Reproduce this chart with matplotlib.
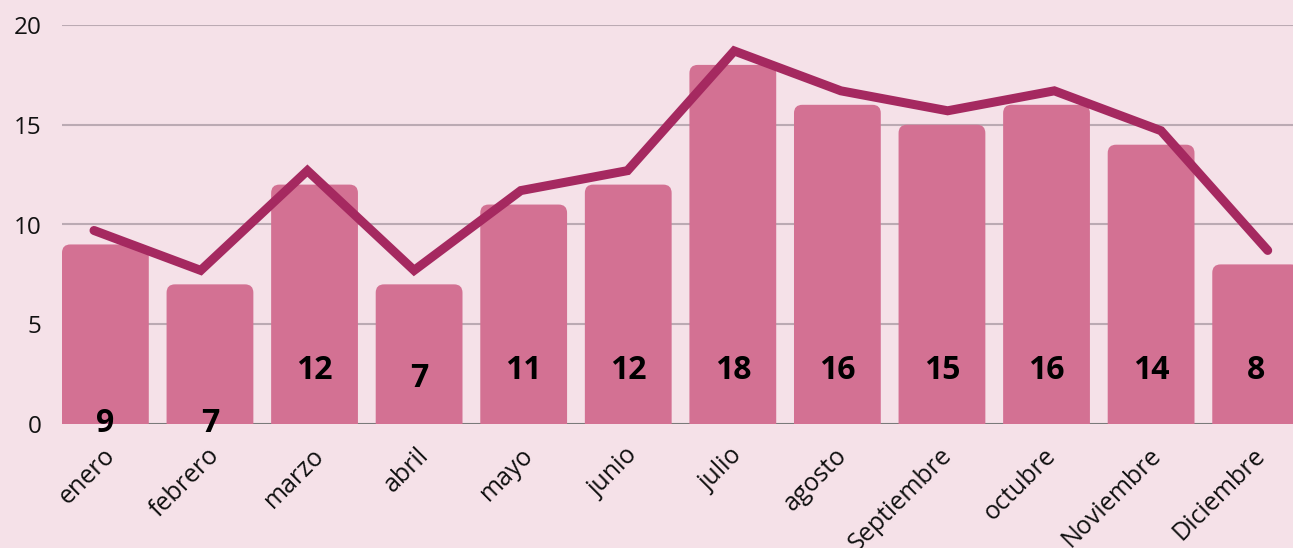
import matplotlib
matplotlib.use("Agg")
import matplotlib.pyplot as plt
from matplotlib.patches import FancyBboxPatch
from matplotlib import transforms

months = ["enero", "febrero", "marzo", "abril", "mayo", "junio", "julio",
          "agosto", "Septiembre", "octubre", "Noviembre", "Diciembre"]
values = [9, 7, 12, 7, 11, 12, 18, 16, 15, 16, 14, 8]
line_values = [9, 7, 12, 7, 11, 12, 18, 16, 15, 16, 14, 8]
label_y = [0, 0, 2.7, 2.3, 2.7, 2.7, 2.7, 2.7, 2.7, 2.7, 2.7, 2.7]
yticks = [0, 5, 10, 15, 20]

BG = "#F5E1E8"
BAR = "#D37193"
LINE = "#A52960"
GRID = "#BBAAB3"
FONT = "Open Sans"

W, H = 1293, 548
fig = plt.figure(figsize=(W / 100, H / 100), dpi=100)
fig.patch.set_facecolor(BG)

left, right, bottom, top = 62 / W, 1.0, (H - 424) / H, (H - 25) / H
ax = fig.add_axes([left, bottom, right - left, top - bottom])
ax.set_facecolor(BG)

bw = 0.83
x = list(range(len(months)))
ax.set_xlim(-bw / 2, 11.357)
ax.set_ylim(0, 20)

bars = ax.bar(x, values, width=bw, color=BAR, zorder=2)
rx = 0.08
aspect = 5.25
for rect in bars:
    rect.set_visible(False)
    bx, bh = rect.get_x(), rect.get_height()
    p = FancyBboxPatch((bx, -rx * aspect), rect.get_width(), bh + rx * aspect,
                       boxstyle=f"round,pad=0,rounding_size={rx}",
                       mutation_aspect=aspect, facecolor=BAR, edgecolor="none",
                       zorder=2, clip_on=True)
    ax.add_patch(p)

# grid
for yt in yticks:
    ax.axhline(yt, color=("#7A7A7A" if yt == 0 else GRID), lw=1.5, zorder=1)

for s in ax.spines.values():
    s.set_visible(False)

ax.set_yticks(yticks)
ax.set_yticklabels([str(v) for v in yticks], fontsize=17.5, family=FONT, color="#111111")
ax.tick_params(axis="y", length=0, pad=15)

ax.set_xticks(x)
ax.set_xticklabels(months, fontsize=18, family=FONT, color="#111111",
                   rotation=45, ha="right", va="center", rotation_mode="anchor")
ax.tick_params(axis="x", length=0, pad=20)
offset = transforms.ScaledTranslation(6 / 100, 0, fig.dpi_scale_trans)
for lab in ax.get_xticklabels():
    lab.set_transform(lab.get_transform() + offset)

for xi, v, ly in zip(x, values, label_y):
    ax.text(xi, ly, str(v), ha="center", va="center", fontsize=23,
            fontweight="bold", family=FONT, color="#000000", zorder=5)

# line on secondary axes
ax2 = fig.add_axes(ax.get_position(), facecolor="none")
ax2.set_xlim(-0.30, 11.237)
ax2.set_ylim(-0.7, 19.3)
ax2.axis("off")
ax2.plot(x, line_values, color=LINE, lw=6.5, solid_capstyle="round",
         solid_joinstyle="miter", clip_on=False, zorder=4)

fig.savefig("out.png", dpi=100, facecolor=BG)
